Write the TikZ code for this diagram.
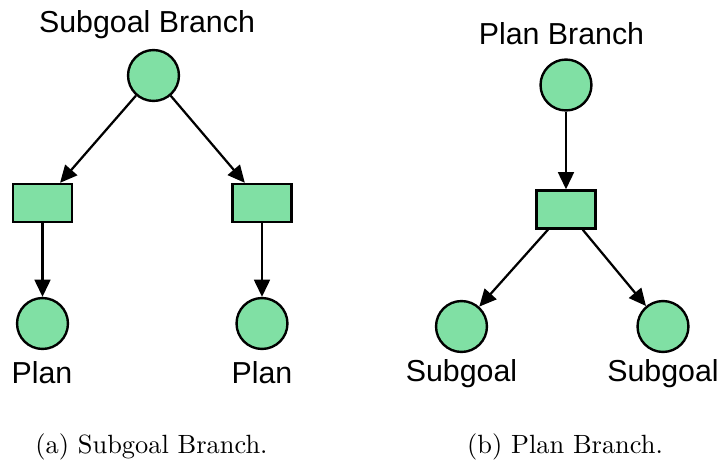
\documentclass[tikz,border=0pt]{standalone}
\usepackage{fontspec}
\newfontfamily\helv{Liberation Sans}
\usetikzlibrary{arrows.meta}

\definecolor{pnGreen}{RGB}{128,224,164}

\tikzstyle{pS}=[circle,minimum size = 19.3pt,inner sep = 0pt,draw,line width=0.9pt,fill=pnGreen]
\tikzstyle{tS}=[rectangle,minimum width = 22.4pt,minimum height = 14.4pt,inner sep = 0pt,draw,line width=0.9pt,fill=pnGreen]
\tikzstyle{aS}=[line width=0.85pt,-{Triangle[length=6.5pt,width=6pt]}]
\tikzstyle{lS}=[anchor=base,inner sep = 0pt,font=\helv\fontsize{11.5}{13}\selectfont]
\tikzstyle{cS}=[anchor=base,inner sep = 0pt,font=\fontsize{10}{12}\selectfont]

\begin{document}
\begin{tikzpicture}[x=0.379pt,y=-0.379pt]
                \useasboundingbox (0,0) rectangle (721,463);
                % (a) subgoal branch
                \draw (147,32) node[lS] (tA) {Subgoal Branch};
                \draw (153.5,75.5) node[pS] (s0) {};
                \draw (42.5,203) node[tS] (t1) {};
                \draw (262,203) node[tS] (t2) {};
                \draw (42.5,323.5) node[pS] (p1) {};
                \draw (262,323.5) node[pS] (p2) {};
                \draw (42,383) node[lS] (lp1) {Plan};
                \draw (262,383) node[lS] (lp2) {Plan};
                % (b) plan branch
                \draw (561.5,45) node[lS] (tB) {Plan Branch};
                \draw (566,85) node[pS] (p0) {};
                \draw (566,209.5) node[tS] (t0) {};
                \draw (461.5,326.5) node[pS] (s1) {};
                \draw (663,326.5) node[pS] (s2) {};
                \draw (461.5,382) node[lS] (ls1) {Subgoal};
                \draw (663,382) node[lS] (ls2) {Subgoal};
                \path
                    (s0) edge[aS] (t1)
                    (s0) edge[aS] (t2)
                    (t1) edge[aS] (p1)
                    (t2) edge[aS] (p2)
                    (p0) edge[aS] (t0)
                    (t0) edge[aS] (s1)
                    (t0) edge[aS] (s2)
                ;
                % captions
                \draw (151.5,453) node[cS] (capA) {(a) Subgoal Branch.};
                \draw (565,453) node[cS] (capB) {(b) Plan Branch.};
        \end{tikzpicture}
\end{document}
